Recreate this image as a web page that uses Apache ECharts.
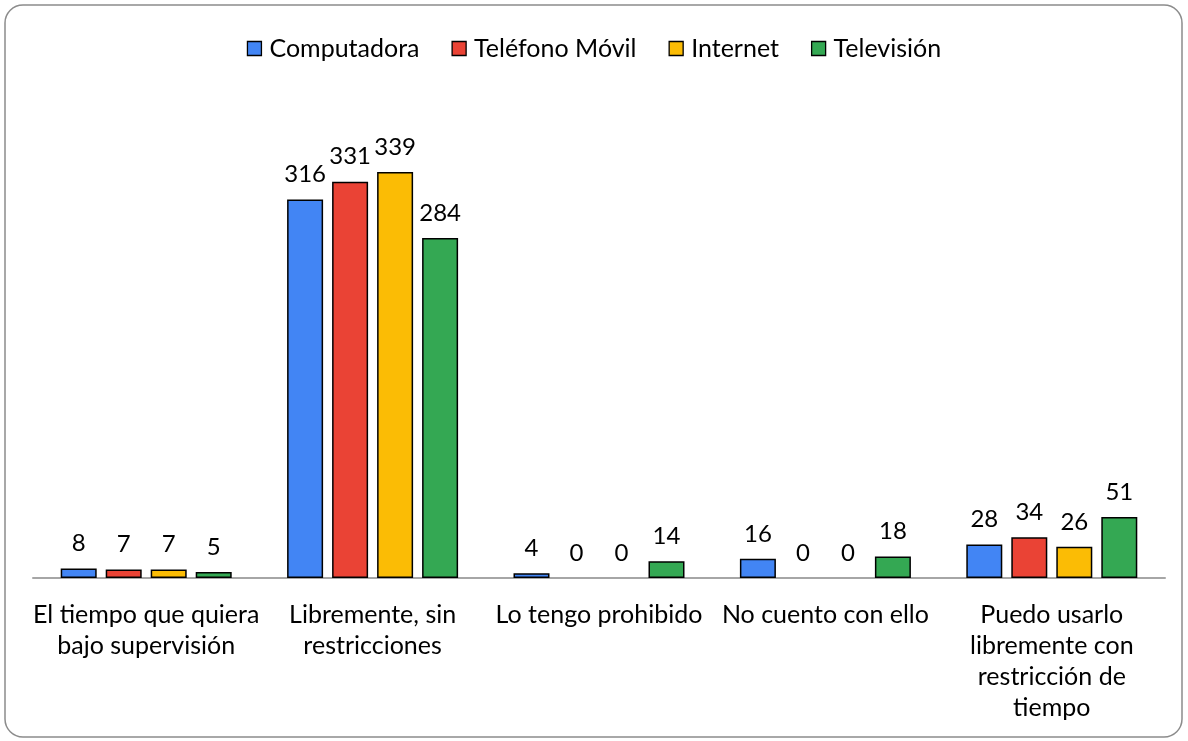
<!DOCTYPE html>
<html><head><meta charset="utf-8">
<script src="https://cdn.jsdelivr.net/npm/echarts@6/dist/echarts.min.js"></script>
<style>html,body{margin:0;padding:0;background:#fff}#c{width:1188px;height:741px}</style>
</head><body><div id="c"></div>
<script>
const categories = ['El tiempo que quiera\nbajo supervisión', 'Libremente, sin\nrestricciones', 'Lo tengo prohibido', 'No cuento con ello', 'Puedo usarlo\nlibremente con\nrestricción de\ntiempo'];
const seriesNames = ['Computadora', 'Teléfono Móvil', 'Internet', 'Televisión'];
const computadora = [8, 316, 4, 16, 28];
const telefono = [7, 331, 0, 0, 34];
const internet = [7, 339, 0, 0, 26];
const television = [5, 284, 14, 18, 51];
const colors = ['#4285F4', '#EA4335', '#FBBC05', '#34A853'];
const values = [computadora, telefono, internet, television];
const font = 'Lato, "Open Sans", sans-serif';
const chart = echarts.init(document.getElementById('c'));
chart.setOption({
  animation: false,
  graphic: [{type: 'rect', shape: {x: 5, y: 5, width: 1177, height: 732, r: 18}, style: {fill: 'none', stroke: '#8c8c8c', lineWidth: 1.5}, silent: true}],
  legend: {top: 31, left: 'center', itemWidth: 14, itemHeight: 14, itemGap: 32, icon: 'rect',
    textStyle: {fontFamily: font, fontSize: 25, color: '#000', padding: [0, 0, 0, 3]},
    itemStyle: {borderColor: '#000', borderWidth: 1.3}},
  grid: {left: 33, right: 23, top: 99, bottom: 163},
  xAxis: {type: 'category', data: categories,
    axisLine: {lineStyle: {color: '#a6a6a6', width: 2}}, axisTick: {show: false},
    axisLabel: {interval: 0, margin: 21, fontFamily: font, fontSize: 25, color: '#000', lineHeight: 31}},
  yAxis: {type: 'value', min: 0, max: 400, show: false, splitLine: {show: false}},
  series: seriesNames.map((n, i) => ({
    name: n, type: 'bar', barWidth: 36, barGap: '25%',
    data: values[i].map(v => v === 0 ? {value: v, itemStyle: {borderWidth: 0}} : v),
    itemStyle: {color: colors[i], borderColor: '#000', borderWidth: 1.5},
    label: {show: true, position: 'top', distance: 13, fontFamily: font, fontSize: 24, color: '#000'}
  }))
});
</script></body></html>
